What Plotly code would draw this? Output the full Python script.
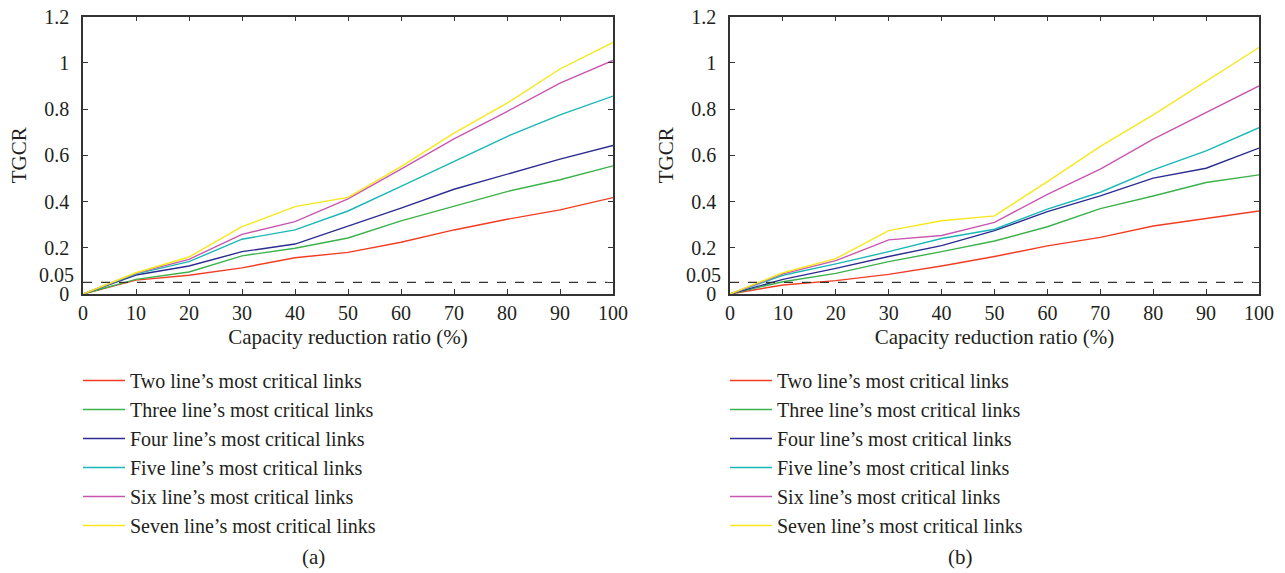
import plotly.graph_objects as go

# capacity reduction ratio (%)
ratio = [0, 10, 20, 30, 40, 50, 60, 70, 80, 90, 100]

series_names = [
    "Two line’s most critical links",
    "Three line’s most critical links",
    "Four line’s most critical links",
    "Five line’s most critical links",
    "Six line’s most critical links",
    "Seven line’s most critical links",
]
colors = ["#f23d22", "#3bb24b", "#2c2c92", "#19b7b7", "#c957b1", "#f7e81c"]

# panel (a)
tgcr_a_two = [0, 0.060, 0.081, 0.113, 0.157, 0.180, 0.224, 0.277, 0.323, 0.364, 0.417]
tgcr_a_three = [0, 0.063, 0.095, 0.165, 0.198, 0.242, 0.316, 0.381, 0.443, 0.494, 0.554]
tgcr_a_four = [0, 0.082, 0.121, 0.183, 0.216, 0.294, 0.371, 0.453, 0.518, 0.583, 0.642]
tgcr_a_five = [0, 0.087, 0.140, 0.237, 0.277, 0.359, 0.465, 0.573, 0.681, 0.775, 0.856]
tgcr_a_six = [0, 0.090, 0.150, 0.258, 0.313, 0.411, 0.540, 0.671, 0.789, 0.912, 1.010]
tgcr_a_seven = [0, 0.092, 0.160, 0.291, 0.378, 0.418, 0.551, 0.696, 0.825, 0.973, 1.088]

# panel (b)
tgcr_b_two = [0, 0.039, 0.058, 0.085, 0.121, 0.162, 0.208, 0.245, 0.294, 0.328, 0.359]
tgcr_b_three = [0, 0.053, 0.089, 0.140, 0.183, 0.229, 0.291, 0.369, 0.424, 0.482, 0.515]
tgcr_b_four = [0, 0.063, 0.111, 0.162, 0.209, 0.274, 0.356, 0.424, 0.501, 0.544, 0.631]
tgcr_b_five = [0, 0.081, 0.130, 0.183, 0.240, 0.280, 0.367, 0.440, 0.537, 0.619, 0.719]
tgcr_b_six = [0, 0.087, 0.144, 0.234, 0.253, 0.310, 0.431, 0.540, 0.670, 0.786, 0.900]
tgcr_b_seven = [0, 0.092, 0.153, 0.274, 0.317, 0.338, 0.486, 0.638, 0.775, 0.919, 1.066]

threshold = 0.05
y_ticks = [0, 0.05, 0.2, 0.4, 0.6, 0.8, 1, 1.2]
y_ticktext = ["0", "", "0.2", "0.4", "0.6", "0.8", "1", "1.2"]  # 0.05 label drawn separately

panel_a = [tgcr_a_two, tgcr_a_three, tgcr_a_four, tgcr_a_five, tgcr_a_six, tgcr_a_seven]
panel_b = [tgcr_b_two, tgcr_b_three, tgcr_b_four, tgcr_b_five, tgcr_b_six, tgcr_b_seven]

FONT = "Liberation Serif"
TXT = "#231f20"
FS_TICK = 20
FS = 21
FS_LEG = 20

fig = go.Figure()

for panel, (xa, ya, leg) in zip([panel_a, panel_b], [("x", "y", "legend"), ("x2", "y2", "legend2")]):
    for name, vals, col in zip(series_names, panel, colors):
        fig.add_trace(go.Scatter(
            x=ratio, y=vals, mode="lines", name=name,
            line=dict(color=col, width=1.4),
            xaxis=xa, yaxis=ya, legend=leg, legendgroup=leg + name,
        ))
    # 0.05 reference line
    fig.add_trace(go.Scatter(
        x=[0, 99], y=[threshold, threshold], mode="lines",
        line=dict(color="#333333", width=1.2, dash="dash"),
        xaxis=xa, yaxis=ya, showlegend=False, hoverinfo="skip",
    ))

axis_common = dict(
    showline=True, linecolor="#333333", linewidth=1.5, mirror="ticks",
    ticks="inside", ticklen=5, tickcolor="#333333", tickwidth=1.2,
    showgrid=False, zeroline=False, automargin=False,
    tickfont=dict(family=FONT, size=FS_TICK, color=TXT),
)

xdom_a = [83 / 1285, 613 / 1285]
xdom_b = [730 / 1285, 1259 / 1285]
ydom = [1 - 294 / 573, 1 - 16.5 / 573]

annotations = []
for i, xd in enumerate([xdom_a, xdom_b]):
    sfx = "" if i == 0 else "2"
    fig.layout["xaxis" + sfx] = dict(
        axis_common, domain=xd, range=[0, 100], tickvals=ratio,
        anchor="y" + sfx, ticklabelstandoff=0,
        title=dict(text="Capacity reduction ratio (%)",
                   font=dict(family=FONT, size=FS, color=TXT), standoff=7),
    )
    fig.layout["yaxis" + sfx] = dict(
        axis_common, domain=ydom, range=[0, 1.2], tickvals=y_ticks,
        ticktext=y_ticktext, anchor="x" + sfx, ticklabelstandoff=8,
        title=dict(text="TGCR", font=dict(family=FONT, size=FS, color=TXT), standoff=12),
    )
    annotations.append(dict(
        text="0.05", x=xd[0], y=threshold, xref="paper", yref="y" + sfx,
        xanchor="right", yanchor="middle", xshift=-7, yshift=7, showarrow=False,
        font=dict(family=FONT, size=FS_TICK, color=TXT),
    ))

annotations += [
    dict(text="(a)", x=313 / 1285, y=1 - 557 / 573, xref="paper", yref="paper",
         xanchor="center", yanchor="middle", showarrow=False,
         font=dict(family=FONT, size=FS, color=TXT)),
    dict(text="(b)", x=960 / 1285, y=1 - 557 / 573, xref="paper", yref="paper",
         xanchor="center", yanchor="middle", showarrow=False,
         font=dict(family=FONT, size=FS, color=TXT)),
]

legend_common = dict(
    xanchor="left", yanchor="top", bgcolor="rgba(0,0,0,0)",
    font=dict(family=FONT, size=FS_LEG, color=TXT), tracegroupgap=0,
    itemwidth=42,
)

fig.update_layout(
    width=1285, height=573,
    margin=dict(l=0, r=0, t=0, b=0),
    plot_bgcolor="white", paper_bgcolor="white",
    legend=dict(legend_common, x=78 / 1285, y=1 - 361 / 573),
    legend2=dict(legend_common, x=725 / 1285, y=1 - 361 / 573),
    annotations=annotations,
)

# drop the browser's default 8px body margin so the figure fills the window
fig.write_html("out.html", config={"displayModeBar": False},
               post_script="document.body.style.margin='0';")
